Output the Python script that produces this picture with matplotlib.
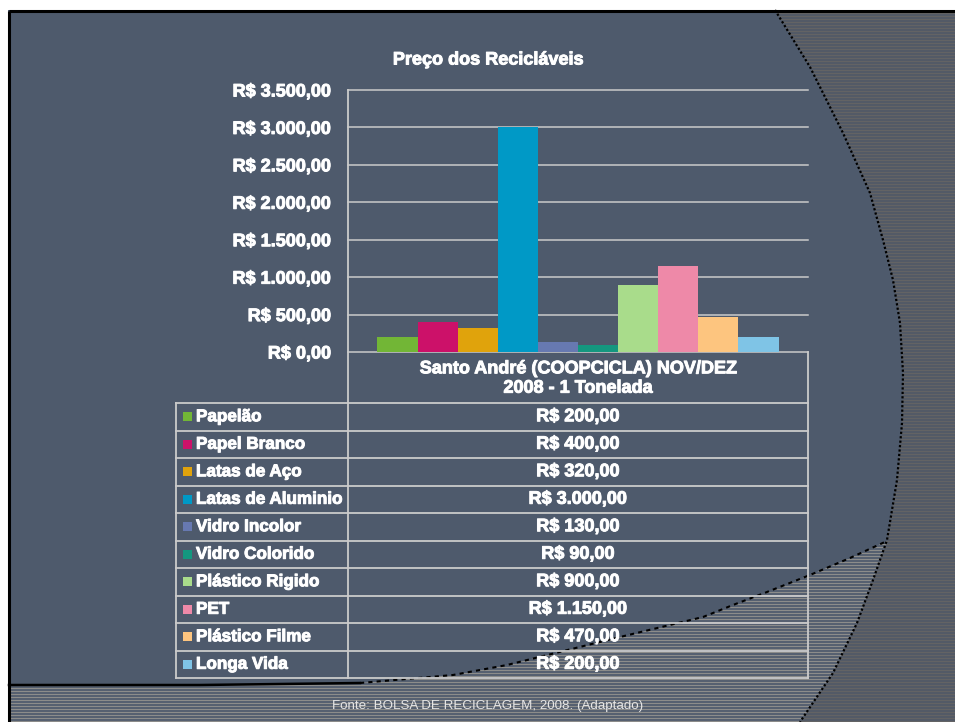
import numpy as np
import matplotlib
matplotlib.use('Agg')
import matplotlib.pyplot as plt
from matplotlib.patches import Polygon, Rectangle
from matplotlib import font_manager as fm
import matplotlib.patheffects as pe

# ---------------- data ----------------
categories = ['Papelão', 'Papel Branco', 'Latas de Aço', 'Latas de Aluminio',
              'Vidro Incolor', 'Vidro Colorido', 'Plástico Rigido', 'PET',
              'Plástico Filme', 'Longa Vida']
values = [200, 400, 320, 3000, 130, 90, 900, 1150, 470, 200]
colors = ['#72b636', '#cc1169', '#e0a30c', '#0099c6', '#6779b1',
          '#14977f', '#a9dc8b', '#ee89a8', '#fdc57f', '#7fc4e6']
series_label = 'Santo André (COOPCICLA) NOV/DEZ\n2008 - 1 Tonelada'
title = 'Preço dos Recicláveis'
yticks = [0, 500, 1000, 1500, 2000, 2500, 3000, 3500]
source = 'Fonte: BOLSA DE RECICLAGEM, 2008. (Adaptado)'


def brl(v):
    s = f"{v:,.2f}".replace(',', 'X').replace('.', ',').replace('X', '.')
    return 'R$ ' + s


BG = '#4e5a6c'
LINE = '#cbcbcb'
FONT = ['Liberation Sans', 'DejaVu Sans']
names = {f.name for f in fm.fontManager.ttflist}
if 'Liberation Sans Narrow' in names:
    foot_font, foot_size = ['Liberation Sans Narrow', 'DejaVu Sans'], 11.5
else:
    foot_font, foot_size = FONT, 9.6

plt.rcParams['font.family'] = FONT
BOLD = [pe.withStroke(linewidth=0.7, foreground='white')]

W, H = 955, 722
fig = plt.figure(figsize=(W / 100, H / 100), dpi=100)
fig.patch.set_facecolor('white')

# background / decoration axes in pixel coordinates
bg = fig.add_axes([0, 0, 1, 1])
bg.set_xlim(0, W)
bg.set_ylim(H, 0)
bg.axis('off')
bg.add_patch(Rectangle((8, 10), W - 8, H - 10, facecolor=BG, edgecolor='none', zorder=0))
bg.plot([8.5, W], [10.5, 10.5], color='black', lw=2.2, zorder=5, solid_capstyle='butt')
bg.plot([8.5, 8.5], [10.5, H], color='black', lw=2.2, zorder=5, solid_capstyle='butt')

arc = np.array([(775, 10), (810, 67), (843, 133), (870, 193), (883, 240), (893, 280),
                (900, 323), (903, 373), (902, 423), (897, 480), (887, 540), (873, 580),
                (857, 623), (833, 673), (800, 722)], float)
curve = np.array([(9, 685), (200, 685), (360, 683), (453, 675), (507, 665), (620, 637),
                  (703, 617), (733, 605), (767, 592), (810, 575), (850, 558), (887, 541)], float)

right_poly = Polygon(np.vstack([arc, [(W, H), (W, 10)]]), closed=True,
                     facecolor='#535a66', edgecolor='none', zorder=1)
bg.add_patch(right_poly)
wedge_pts = np.vstack([curve, arc[arc[:, 1] > 545], [(9, H)]])
wedge_poly = Polygon(wedge_pts, closed=True, facecolor='#566070', edgecolor='none', zorder=1)
bg.add_patch(wedge_poly)

ys = np.arange(12, H, 3) + 0.5
l1 = bg.hlines(ys, 0, W, colors='#636364', lw=0.72, zorder=2)
l1.set_clip_path(right_poly)
l2 = bg.hlines(ys, 0, W, colors='#8c8c8a', lw=0.72, zorder=2)
l2.set_clip_path(wedge_poly)

bg.plot(arc[:, 0], arc[:, 1], color='black', lw=1.6, ls=(0, (1.0, 1.0)), zorder=3)
bg.plot(curve[2:, 0], curve[2:, 1], color='black', lw=1.5, ls=(0, (2.0, 2.0)), zorder=3)
bg.plot(curve[:3, 0], curve[:3, 1], color='black', lw=1.8, zorder=3)

# ---------------- chart axes ----------------
L, R, T, B = 348, 808, 90, 352
ax = fig.add_axes([L / W, (H - B) / H, (R - L) / W, (B - T) / H])
ax.set_facecolor('none')
ax.set_xlim(-0.5, 0.5)
ax.set_ylim(0, 3500)
for s in ax.spines.values():
    s.set_visible(False)
for t in yticks:
    ax.axhline(t, color=LINE, lw=1.1, clip_on=False, zorder=1)

n = len(values)
gw = 0.872
w = gw / n
xs = [-gw / 2 + w * (i + 0.5) for i in range(n)]
ax.bar(xs, values, width=w, color=colors, zorder=3, edgecolor='none')

ax.set_xticks([])
ax.set_yticks(yticks)
ax.set_yticklabels([brl(t) for t in yticks])
ax.tick_params(axis='y', length=0, pad=12, labelsize=13, labelcolor='white')
for lab in ax.get_yticklabels():
    lab.set_fontweight('bold')
    lab.set_path_effects(BOLD)

fig.text(488 / W, 1 - 60 / H, title, ha='center', va='center', color='white',
         fontsize=13, fontweight='bold', path_effects=BOLD)

# ---------------- data table ----------------
TL = 176
row0 = 403
rh = 27.5
bottom = row0 + rh * n
bg.plot([L, L], [T, bottom], color=LINE, lw=1.3, zorder=6)
bg.plot([R, R], [B, bottom], color=LINE, lw=1.3, zorder=6)
bg.plot([TL, TL], [row0, bottom], color=LINE, lw=1.3, zorder=6)
for i in range(n + 1):
    y = row0 + rh * i
    bg.plot([TL, R], [y, y], color=LINE, lw=1.3, zorder=6)

bg.text((L + R) / 2, (B + row0) / 2 + 1, series_label, ha='center', va='center',
        color='white', fontsize=13, fontweight='bold', linespacing=1.18, zorder=7,
        path_effects=BOLD)

for i, (cat, val, col) in enumerate(zip(categories, values, colors)):
    yc = row0 + rh * (i + 0.5)
    bg.add_patch(Rectangle((183, yc - 4.5), 9, 9, facecolor=col, edgecolor='none', zorder=7))
    bg.text(196, yc, cat, ha='left', va='center', color='white', fontsize=12.3,
            fontweight='bold', zorder=7, path_effects=BOLD)
    bg.text((L + R) / 2, yc, brl(val), ha='center', va='center', color='white',
            fontsize=13, fontweight='bold', zorder=7, path_effects=BOLD)

bg.text(488, 706, source, ha='center', va='center', color='#e6e6e6',
        fontsize=foot_size, family=foot_font, zorder=7)

fig.savefig('out.png', dpi=100, facecolor=fig.get_facecolor())
